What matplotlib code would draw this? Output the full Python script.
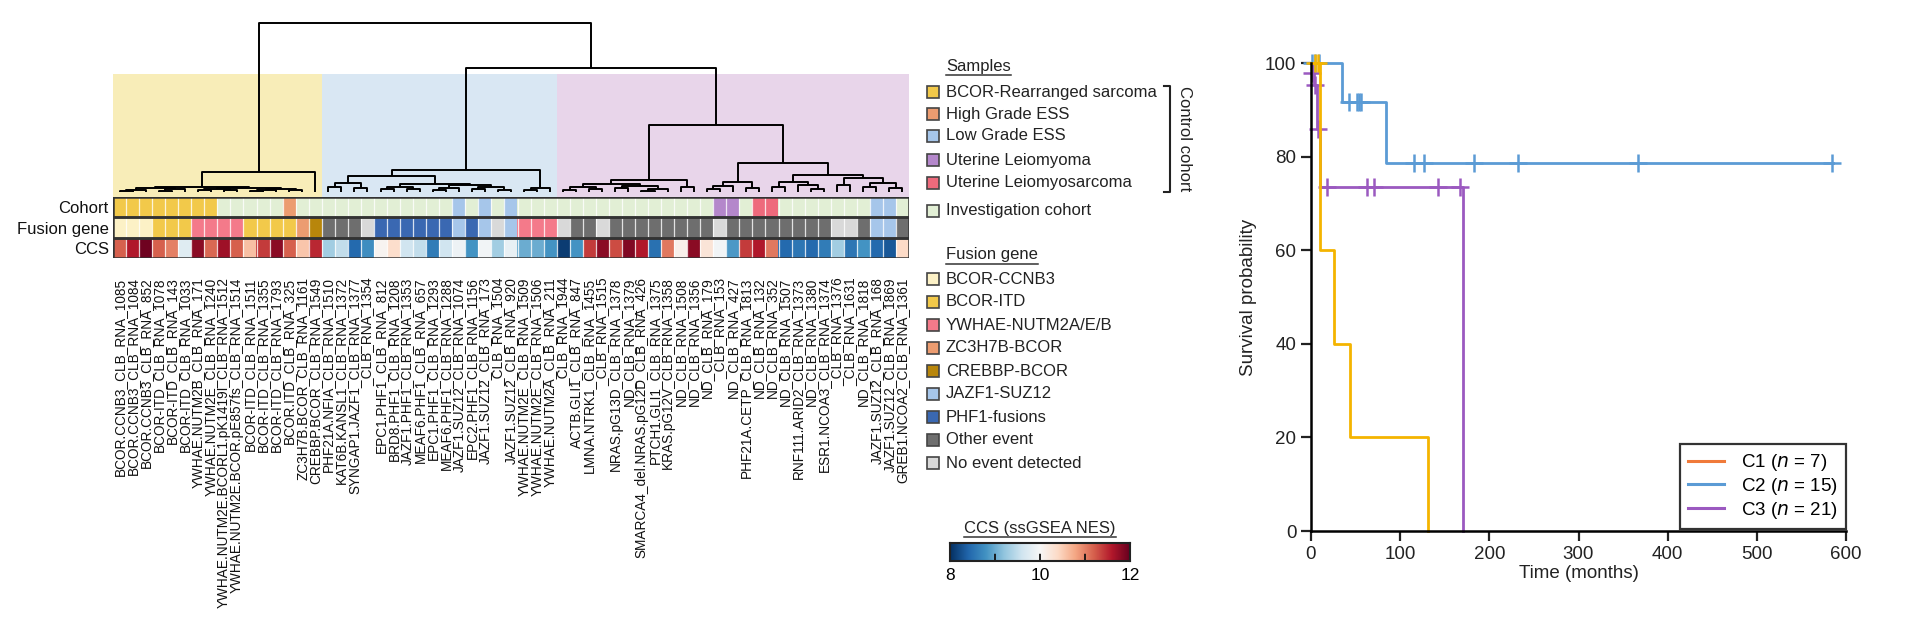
import numpy as np
import matplotlib
matplotlib.use('Agg')
import matplotlib.pyplot as plt
from matplotlib.patches import Rectangle
from matplotlib.colors import Normalize, to_rgba
from matplotlib.lines import Line2D

plt.rcParams['font.family'] = ['Liberation Sans', 'DejaVu Sans']

# ---------------- data ----------------
sample_labels = [
    "BCOR.CCNB3_CLB_RNA_1085", "BCOR.CCNB3_CLB_RNA_1084", "BCOR.CCNB3_CLB_RNA_852",
    "BCOR-ITD_CLB_RNA_1078", "BCOR-ITD_CLB_RNA_143", "BCOR-ITD_CLB_RNA_1033",
    "YWHAE.NUTM2B_CLB_RNA_171", "YWHAE.NUTM2E_CLB_RNA_1240",
    "YWHAE.NUTM2E.BCORL1.pK1419I_CLB_RNA_1512", "YWHAE.NUTM2E.BCOR.pE857fs_CLB_RNA_1514",
    "BCOR-ITD_CLB_RNA_1511", "BCOR-ITD_CLB_RNA_1355", "BCOR-ITD_CLB_RNA_1793", "BCOR.ITD_CLB_RNA_325",
    "ZC3H7B.BCOR_CLB_RNA_1161", "CREBBP.BCOR_CLB_RNA_1549", "PHF21A.NFIA_CLB_RNA_1510",
    "KAT6B.KANSL1_CLB_RNA_1372", "SYNGAP1.JAZF1_CLB_RNA_1377", "_CLB_RNA_1354",
    "EPC1.PHF1_CLB_RNA_812", "BRD8.PHF1_CLB_RNA_1208", "JAZF1.PHF1_CLB_RNA_1353", "MEAF6.PHF1_CLB_RNA_657",
    "EPC1.PHF1_CLB_RNA_1293", "MEAF6.PHF1_CLB_RNA_1288", "JAZF1.SUZ12_CLB_RNA_1074", "EPC2.PHF1_CLB_RNA_1156",
    "JAZF1.SUZ12_CLB_RNA_173", "_CLB_RNA_1504", "JAZF1.SUZ12_CLB_RNA_920", "YWHAE.NUTM2E_CLB_RNA_1509",
    "YWHAE.NUTM2E_CLB_RNA_1506", "YWHAE.NUTM2A_CLB_RNA_211", "_CLB_RNA_1944", "ACTB.GLI1_CLB_RNA_847",
    "LMNA.NTRK1_CLB_RNA_1455", "_CLB_RNA_1515", "NRAS.pG13D_CLB_RNA_1378", "ND_CLB_RNA_1379",
    "SMARCA4_del.NRAS.pG12D_CLB_RNA_426", "PTCH1.GLI1_CLB_RNA_1375", "KRAS.pG12V_CLB_RNA_1358",
    "ND_CLB_RNA_1508", "ND_CLB_RNA_1356", "ND_CLB_RNA_179", "_CLB_RNA_153", "ND_CLB_RNA_427",
    "PHF21A.CETP_CLB_RNA_1813", "ND_CLB_RNA_132", "ND_CLB_RNA_352", "ND_CLB_RNA_1507",
    "RNF111.ARID2_CLB_RNA_1373", "ND_CLB_RNA_1380", "ESR1.NCOA3_CLB_RNA_1374", "_CLB_RNA_1376",
    "_CLB_RNA_1631", "ND_CLB_RNA_1818", "JAZF1.SUZ12_CLB_RNA_168", "JAZF1.SUZ12_CLB_RNA_1869",
    "GREB1.NCOA2_CLB_RNA_1361"]

# cohort codes: B=BCOR-rearranged, H=High grade ESS, L=Low grade ESS,
# M=Uterine leiomyoma, S=Uterine leiomyosarcoma, I=Investigation cohort
cohort_codes = list("BBBBBBBB" "IIIII" "H" "IIIIIIIIIIII" "LILIL"
                    "IIIIIIIIIIIIIII" "MM" "I" "SS" "IIIIIII" "LL" "I")
# fusion codes: C=BCOR-CCNB3, T=BCOR-ITD, Y=YWHAE-NUTM2, Z=ZC3H7B-BCOR, R=CREBBP-BCOR,
# J=JAZF1-SUZ12, P=PHF1-fusions, O=Other event, N=No event detected
fusion_codes = list("CCC" "TTT" "YYYY" "TTTT" "Z" "R" "OOO" "N" "PPPPPP" "J" "P" "J" "N" "J"
                    "YYY" "N" "OO" "N" "OOOOOOOO" "N" "OOOOOOOO" "NN" "O" "JJ" "O")
ccs_values = [11.2, 11.6, 11.95, 11.2, 11.0, 9.75, 11.8, 11.15, 11.7, 11.2,
              10.6, 11.4, 11.8, 11.2, 10.55, 11.5, 9.3, 9.5, 8.45, 8.75,
              10.05, 10.35, 9.6, 9.5, 8.6, 9.6, 9.9, 8.8, 9.95, 9.3,
              9.85, 9.0, 9.0, 8.8, 8.1, 8.8, 11.4, 11.8, 11.3, 11.85,
              11.6, 8.5, 11.05, 10.1, 11.8, 10.25, 9.95, 8.85, 11.4, 11.6,
              11.05, 8.45, 8.55, 8.45, 8.6, 9.3, 8.55, 8.8, 8.45, 8.3, 10.4]

cohort_names = ["BCOR-Rearranged sarcoma", "High Grade ESS", "Low Grade ESS",
                "Uterine Leiomyoma", "Uterine Leiomyosarcoma", "Investigation cohort"]
cohort_keys = ["B", "H", "L", "M", "S", "I"]
cohort_colors = ["#f2c94a", "#ec9c70", "#a6c6ea", "#b487cb", "#ee6a7c", "#e2efd5"]

fusion_names = ["BCOR-CCNB3", "BCOR-ITD", "YWHAE-NUTM2A/E/B", "ZC3H7B-BCOR", "CREBBP-BCOR",
                "JAZF1-SUZ12", "PHF1-fusions", "Other event", "No event detected"]
fusion_keys = ["C", "T", "Y", "Z", "R", "J", "P", "O", "N"]
fusion_colors = ["#fcf1c6", "#f2c94a", "#f47a8a", "#ec9c70", "#b8860b",
                 "#a6c6ea", "#3a68b2", "#6e6e6e", "#d9d9d9"]

row_names = ["Cohort", "Fusion gene", "CCS"]

cluster_names = ["C1", "C2", "C3"]
cluster_sizes = [16, 18, 27]
cluster_colors = ["#f8edb8", "#d9e7f3", "#e8d5ea"]

# dendrogram: (merge height, left, right); leaves are column indices
dendro_tree = (100,
    (11.8,
        (2.9,
            (2.2, (1.4, (0.6, 0, 1), 2), (1.6, (0.8, 3, 4), 5)),
            (2.6, (1.9, (1.0, 6, 7), (1.2, 8, 9)), (2.0, (1.3, (0.5, 10, 11), 12), (0.9, 13, 14)))),
        15),
    (73.3,
        (13.0,
            (9.5,
                (5.3, (3.2, 16, 17), (2.5, 18, 19)),
                (4.7, (3.0, (1.5, 20, 21), (2.0, 22, 23)),
                      (4.0, (2.6, (1.4, 24, 25), 26), (3.1, (1.8, 27, 28), (1.2, 29, 30))))),
            (2.4, (1.3, 31, 32), 33)),
        (39.6,
            (7.1,
                (4.8, (2.8, (1.3, 34, 35), (1.9, 36, 37)),
                      (3.6, (2.2, 38, 39), (1.6, (0.7, 40, 41), 42))),
                (3.0, 43, 44)),
            (17.2,
                (5.9, (3.5, (1.6, 45, 46), 47), (2.3, 48, 49)),
                (10.0,
                    (6.0, (3.2, 50, 51), (4.2, 52, (2.0, 53, 54))),
                    (8.0, (4.0, 55, 56), (5.2, (3.0, 57, 58), (2.1, 59, 60))))))))

ccs_range = (8, 12)
ccs_ticks = [8, 10, 12]
ccs_minor = [9, 10, 11]

# Kaplan-Meier step data (time in months, survival %)
km_groups = ["C1", "C2", "C3"]
km_n = [7, 15, 21]
c1_time = [0, 10, 26, 44, 131]
c1_surv = [100, 60, 40, 20, 0]
c1_cens_t = [4, 7.5]
c1_cens_s = [100, 100]
c2_time = [0, 35, 84, 585]
c2_surv = [100, 91.7, 78.6, 78.6]
c2_cens_t = [1.5, 5, 8.5, 43, 52, 54, 56, 116, 127, 183, 232, 367, 584]
c2_cens_s = [100, 100, 100, 91.7, 91.7, 91.7, 91.7, 78.6, 78.6, 78.6, 78.6, 78.6, 78.6]
c3_time = [0, 1, 3, 7, 10, 171]
c3_surv = [100, 97.9, 95.4, 85.8, 73.4, 0]
c3_cens_t = [1.5, 4, 8, 17.7, 63, 71, 142.5, 167]
c3_cens_s = [97.9, 95.4, 85.8, 73.4, 73.4, 73.4, 73.4, 73.4]

# ---------------- figure ----------------
W, H = 1913, 621
fig = plt.figure(figsize=(W / 100, H / 100), dpi=100)


def px_axes(x0, y0, x1, y1, **kw):
    return fig.add_axes([x0 / W, 1 - y1 / H, (x1 - x0) / W, (y1 - y0) / H], **kw)


ncol = len(sample_labels)
HM_X0, HM_X1 = 113, 909

# overlay axes in pixel coordinates
ax_o = px_axes(0, 0, W, H)
ax_o.set_xlim(0, W)
ax_o.set_ylim(H, 0)
ax_o.axis('off')

# ---- dendrogram + cluster shading ----
ax_d = px_axes(HM_X0, 20, HM_X1, 197)
ax_d.set_xlim(-0.5, ncol - 0.5)
ax_d.set_ylim(-2.96, 101.8)
ax_d.axis('off')
start = 0
for name, size, col in zip(cluster_names, cluster_sizes, cluster_colors):
    ax_d.axvspan(start - 0.5, start + size - 0.5, ymin=0, ymax=0.695, color=col, lw=0, zorder=0)
    start += size


def draw_tree(node):
    if isinstance(node, int):
        return float(node), 0.0
    h, left, right = node
    xl, hl = draw_tree(left)
    xr, hr = draw_tree(right)
    ax_d.plot([xl, xl, xr, xr], [hl, h, h, hr], color='black', lw=1.4,
              solid_capstyle='butt', zorder=3)
    return (xl + xr) / 2, h


draw_tree(dendro_tree)

for name, (lx, ly) in zip(cluster_names, [(214, 123), (433, 123), (598, 123)]):
    ax_o.text(lx, ly, name, fontsize=12, ha='center', va='center', color='#222')

# ---- heatmap ----
ax_h = px_axes(HM_X0, 197, HM_X1, 258)
cmap_ccs = plt.get_cmap('RdBu_r')
norm_ccs = Normalize(*ccs_range)
cmap_coh = dict(zip(cohort_keys, cohort_colors))
cmap_fus = dict(zip(fusion_keys, fusion_colors))
img = np.zeros((3, ncol, 4))
for i in range(ncol):
    img[0, i] = to_rgba(cmap_coh[cohort_codes[i]])
    img[1, i] = to_rgba(cmap_fus[fusion_codes[i]])
    img[2, i] = cmap_ccs(norm_ccs(ccs_values[i]))
ax_h.imshow(img, aspect='auto', extent=(-0.5, ncol - 0.5, 3, 0), interpolation='nearest')
ax_h.vlines(np.arange(ncol - 1) + 0.5, 0, 3, colors='white', lw=0.9, alpha=0.8)
for r in range(3):
    ax_h.add_patch(Rectangle((-0.5, r), ncol, 1, fill=False, ec='#333333', lw=1.8, zorder=4))
ax_h.set_xlim(-0.5, ncol - 0.5)
ax_h.set_ylim(3, 0)
for s in ax_h.spines.values():
    s.set_visible(False)
ax_h.set_xticks(np.arange(ncol))
ax_h.set_xticklabels(sample_labels, rotation=90, fontsize=9.8, color='#111')
ax_h.set_yticks([0.5, 1.5, 2.5])
ax_h.set_yticklabels(row_names, fontsize=12, color='#111')
ax_h.tick_params(axis='x', length=0, pad=14)
ax_h.tick_params(axis='y', length=0, pad=3)

# ---- legends (samples / fusion) ----
SQ = 12
title_texts = []
t = ax_o.text(946, 66, "Samples", fontsize=12, va='center', ha='left', color='#222')
title_texts.append(t)
samp_y = [92, 114, 136, 160, 183, 211]
for name, col, y in zip(cohort_names, cohort_colors, samp_y):
    ax_o.add_patch(Rectangle((927, y - SQ / 2), SQ, SQ, fc=col, ec='#444', lw=1.2))
    ax_o.text(946, y, name, fontsize=12, va='center', ha='left', color='#222')
# bracket for control cohort
ax_o.plot([1164, 1170, 1170, 1164], [86, 86, 192, 192], color='#222', lw=1.5)
ax_o.text(1184, 139, "Control cohort", fontsize=12, rotation=270, ha='center', va='center', color='#222')

t = ax_o.text(946, 255, "Fusion gene", fontsize=12, va='center', ha='left', color='#222')
title_texts.append(t)
fus_y = [279, 302, 325, 348, 371, 394, 417, 440, 463]
for name, col, y in zip(fusion_names, fusion_colors, fus_y):
    ax_o.add_patch(Rectangle((927, y - SQ / 2), SQ, SQ, fc=col, ec='#444', lw=1.2))
    ax_o.text(946, y, name, fontsize=12, va='center', ha='left', color='#222')

t = ax_o.text(1040, 528, "CCS (ssGSEA NES)", fontsize=12, va='center', ha='center', color='#222')
title_texts.append(t)

# colorbar
ax_cb = px_axes(950, 543, 1130, 561)
grad = np.linspace(ccs_range[0], ccs_range[1], 256)[None, :]
ax_cb.imshow(grad, aspect='auto', cmap=cmap_ccs, norm=norm_ccs,
             extent=(ccs_range[0], ccs_range[1], 0, 1))
ax_cb.vlines(ccs_minor, 0, 1, colors='#111', lw=1.3, linestyles=(0, (4, 6)))
ax_cb.set_xlim(*ccs_range)
ax_cb.set_ylim(0, 1)
ax_cb.set_yticks([])
ax_cb.set_xticks(ccs_ticks)
ax_cb.set_xticklabels([str(v) for v in ccs_ticks], fontsize=12.5)
ax_cb.tick_params(axis='x', length=0, pad=5)
for s in ax_cb.spines.values():
    s.set_linewidth(1.5)
    s.set_color('#222')

# underline titles
fig.canvas.draw()
for t in title_texts:
    bb = t.get_window_extent()
    ax_o.plot([bb.x0, bb.x1], [H - bb.y0 + 1, H - bb.y0 + 1], color='#333', lw=1.1)

# ---- Kaplan-Meier ----
ax_k = px_axes(1311, 63, 1846, 531)
km_line_colors = ["#f4b400", "#5b9bd5", "#9b59c0"]
legend_colors = ["#f07a3a", "#5b9bd5", "#9b59c0"]
series = [(c2_time, c2_surv, c2_cens_t, c2_cens_s, km_line_colors[1]),
          (c3_time, c3_surv, c3_cens_t, c3_cens_s, km_line_colors[2]),
          (c1_time, c1_surv, c1_cens_t, c1_cens_s, km_line_colors[0])]
for tt, ss, ct, cs, col in series:
    ax_k.step(tt, ss, where='post', color=col, lw=2.0, clip_on=False, zorder=3)
    ax_k.plot(ct, cs, ls='none', marker='+', ms=13, mew=1.8, color=col, clip_on=False, zorder=3)
ax_k.set_xlim(0, 600)
ax_k.set_ylim(0, 100)
ax_k.set_xticks(range(0, 601, 100))
ax_k.set_yticks(range(0, 101, 20))
ax_k.spines['top'].set_visible(False)
ax_k.spines['right'].set_visible(False)
for s in ('left', 'bottom'):
    ax_k.spines[s].set_linewidth(1.8)
    ax_k.spines[s].set_zorder(4)
ax_k.tick_params(direction='out', length=7, width=1.6, labelsize=13.5, colors='#222')
ax_k.set_xlabel("Time (months)", fontsize=13.5, labelpad=2, color='#222')
ax_k.set_ylabel("Survival probability", fontsize=13.5, labelpad=6, color='#222')
handles = [Line2D([0], [0], color=c, lw=2.2) for c in legend_colors]
leg_labels = [f"{g} ($\\it{{n}}$ = {n})" for g, n in zip(km_groups, km_n)]
leg = ax_k.legend(handles, leg_labels, loc='lower right', bbox_to_anchor=(1.0, 0.004),
                  borderaxespad=0, fontsize=13.5, frameon=True, fancybox=False,
                  handlelength=1.9, labelspacing=0.15, borderpad=0.45, handletextpad=0.9)
leg.get_frame().set_edgecolor('black')
leg.get_frame().set_linewidth(1.6)

fig.savefig("out.png", dpi=100)
